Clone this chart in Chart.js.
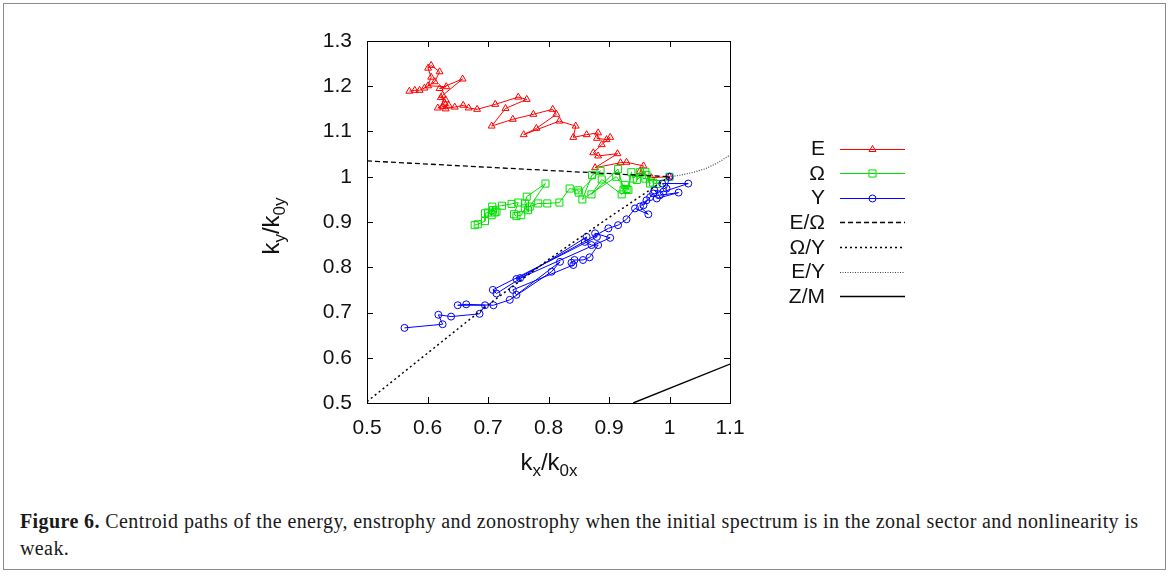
<!DOCTYPE html>
<html>
<head>
<meta charset="utf-8">
<title>Centroid paths</title>
<script src="https://cdn.jsdelivr.net/npm/chart.js@4.4.1/dist/chart.umd.min.js"></script>
<style>
  body { margin: 0; background: #fff; }
  #frame { position: absolute; left: 3px; top: 3px; width: 1161px; height: 565px; border: 1px solid #8c8c8c; }
  #plot { position: absolute; left: 0; top: 0; }
  #caption {
    position: absolute; left: 20px; top: 508px; width: 1140px; margin: 0;
    font-family: "Liberation Serif", "DejaVu Serif", serif; font-size: 20px; letter-spacing: 0.4px;
    line-height: 27px; color: #1a1a1a;
  }
</style>
</head>
<body>
<div id="frame"></div>
<canvas id="plot" width="1170" height="490"></canvas>
<p id="caption"><b>Figure 6.</b> Centroid paths of the energy, enstrophy and zonostrophy when the initial spectrum is in the zonal sector and nonlinearity is<br>weak.</p>
<script>
// axis ticks
const xTickValues = [0.5, 0.6, 0.7, 0.8, 0.9, 1.0, 1.1];
const yTickValues = [0.5, 0.6, 0.7, 0.8, 0.9, 1.0, 1.1, 1.2, 1.3];

// legend entries, same order as the datasets below
const seriesNames = ['E', 'Ω', 'Y', 'E/Ω', 'Ω/Y', 'E/Y', 'Z/M'];

// centroid path of the energy (kx/k0x, ky/k0y)
const energyPath = [
  [1.000, 1.000], [0.970, 0.998], [0.951, 1.012], [0.957, 1.024], [0.929, 1.032],
  [0.919, 1.031], [0.877, 1.020], [0.914, 1.051], [0.882, 1.046], [0.874, 1.053],
  [0.888, 1.071], [0.902, 1.087], [0.896, 1.082], [0.880, 1.085], [0.882, 1.097],
  [0.863, 1.093], [0.841, 1.087], [0.845, 1.112], [0.818, 1.123], [0.759, 1.093],
  [0.780, 1.107], [0.813, 1.138], [0.807, 1.149], [0.775, 1.138], [0.741, 1.127],
  [0.706, 1.112], [0.729, 1.151], [0.764, 1.171], [0.750, 1.176], [0.712, 1.160],
  [0.682, 1.149], [0.668, 1.152], [0.659, 1.158], [0.645, 1.154], [0.630, 1.150],
  [0.625, 1.155], [0.635, 1.158], [0.617, 1.152], [0.628, 1.163], [0.630, 1.170],
  [0.622, 1.175], [0.625, 1.180], [0.658, 1.216], [0.620, 1.195], [0.631, 1.199],
  [0.601, 1.201], [0.606, 1.220], [0.601, 1.240], [0.606, 1.246], [0.620, 1.232],
  [0.612, 1.210], [0.595, 1.196], [0.587, 1.191], [0.579, 1.191], [0.570, 1.189]
];

// centroid path of the enstrophy
const enstrophyPath = [
  [1.000, 1.000], [0.979, 0.984], [0.973, 0.987], [0.962, 1.004], [0.968, 0.985],
  [0.960, 0.996], [0.960, 1.011], [0.946, 0.993], [0.951, 1.010], [0.940, 0.996],
  [0.937, 1.010], [0.932, 0.971], [0.926, 0.982], [0.924, 0.971], [0.915, 1.017],
  [0.871, 0.961], [0.888, 0.994], [0.921, 0.961], [0.929, 0.973], [0.912, 1.000],
  [0.856, 0.950], [0.872, 1.004], [0.886, 1.013], [0.850, 0.965], [0.849, 0.970],
  [0.835, 0.974], [0.818, 0.943], [0.798, 0.941], [0.783, 0.941], [0.769, 0.934],
  [0.795, 0.985], [0.764, 0.956], [0.761, 0.941], [0.766, 0.926], [0.761, 0.930],
  [0.755, 0.915], [0.747, 0.913], [0.743, 0.917], [0.750, 0.943], [0.739, 0.940],
  [0.723, 0.936], [0.707, 0.934], [0.708, 0.926], [0.714, 0.923], [0.711, 0.921],
  [0.706, 0.915], [0.700, 0.921], [0.695, 0.919], [0.695, 0.902], [0.683, 0.895],
  [0.678, 0.893]
];

// centroid path of the zonostrophy
const zonostrophyPath = [
  [1.000, 1.000], [0.995, 0.974], [0.988, 0.985], [1.031, 0.985], [0.990, 0.967],
  [0.975, 0.970], [0.984, 0.959], [1.015, 0.965], [0.979, 0.952], [0.973, 0.963],
  [0.968, 0.955], [0.957, 0.937], [0.962, 0.948], [0.951, 0.934], [0.965, 0.917],
  [0.943, 0.930], [0.929, 0.906], [0.915, 0.893], [0.899, 0.886], [0.747, 0.774],
  [0.753, 0.776], [0.902, 0.865], [0.877, 0.875], [0.880, 0.867], [0.708, 0.750],
  [0.714, 0.742], [0.863, 0.867], [0.860, 0.856], [0.871, 0.849], [0.882, 0.849],
  [0.868, 0.822], [0.857, 0.816], [0.843, 0.816], [0.838, 0.810], [0.841, 0.805],
  [0.741, 0.750], [0.747, 0.739], [0.819, 0.812], [0.805, 0.790], [0.736, 0.728],
  [0.709, 0.716], [0.664, 0.718], [0.650, 0.716], [0.695, 0.716], [0.686, 0.697],
  [0.639, 0.691], [0.618, 0.695], [0.625, 0.674], [0.562, 0.666]
];

// sector boundaries
const eOmegaLine = [[0.5, 1.035], [1.0, 1.0]];
const omegaYLine = [[0.5, 0.503], [0.6, 0.61], [0.7, 0.717], [0.8, 0.817], [0.9, 0.91], [1.0, 1.0]];
const eYLine = [[1.0, 1.0], [1.02, 1.004], [1.04, 1.01], [1.06, 1.018], [1.08, 1.031], [1.1, 1.048]];
const zmLine = [[0.94, 0.5], [1.1, 0.586]];

const toXY = pts => pts.map(([x, y]) => ({ x, y }));
const tickText = v => String(Number(v.toFixed(1)));

const RED = '#ff0000', GREEN = '#00e000', BLUE = '#0000ff';

function pathSet(label, pts, color, style, radius, order) {
  return {
    label, data: toXY(pts), showLine: true, order,
    borderColor: color, borderWidth: 1,
    pointStyle: style, pointRadius: radius, pointBorderWidth: 1,
    pointBorderColor: color, pointBackgroundColor: 'rgba(0,0,0,0)'
  };
}
function boundarySet(label, pts, color, dash, width, order) {
  return {
    label, data: toXY(pts), showLine: true, order,
    borderColor: color, borderWidth: width, borderDash: dash,
    pointRadius: 0
  };
}

const datasets = [
  pathSet(seriesNames[0], energyPath, RED, 'triangle', 4, 7),
  pathSet(seriesNames[1], enstrophyPath, GREEN, 'rect', 5, 6),
  pathSet(seriesNames[2], zonostrophyPath, BLUE, 'circle', 3.5, 5),
  boundarySet(seriesNames[3], eOmegaLine, '#000', [5, 3], 1.3, 4),
  boundarySet(seriesNames[4], omegaYLine, '#000', [2, 3], 1.5, 3),
  boundarySet(seriesNames[5], eYLine, '#444', [1, 1.5], 1.2, 2),
  boundarySet(seriesNames[6], zmLine, '#000', [], 1.4, 1)
];

// text with subscripts, e.g. [['k',0],['y',1]]
function drawSubText(ctx, parts, cx, baseY) {
  const big = '24px "Liberation Sans", Arial, sans-serif';
  const small = '17px "Liberation Sans", Arial, sans-serif';
  let total = 0;
  parts.forEach(([t, sub]) => { ctx.font = sub ? small : big; total += ctx.measureText(t).width; });
  let x = cx - total / 2;
  ctx.textAlign = 'left';
  ctx.textBaseline = 'alphabetic';
  parts.forEach(([t, sub]) => {
    ctx.font = sub ? small : big;
    ctx.fillText(t, x, baseY + (sub ? 6 : 0));
    x += ctx.measureText(t).width;
  });
}

// gnuplot-like border, inward ticks, axis titles and key
const gnuplotDecor = {
  id: 'gnuplotDecor',
  afterDraw(chart) {
    const { ctx, chartArea: a, scales: { x, y } } = chart;
    ctx.save();
    ctx.strokeStyle = '#000';
    ctx.lineWidth = 1;
    ctx.setLineDash([]);
    ctx.beginPath();
    xTickValues.forEach(v => {
      const px = Math.round(x.getPixelForValue(v)) + 0.5;
      ctx.moveTo(px, a.bottom); ctx.lineTo(px, a.bottom - 6);
      ctx.moveTo(px, a.top); ctx.lineTo(px, a.top + 6);
    });
    yTickValues.forEach(v => {
      const py = Math.round(y.getPixelForValue(v)) + 0.5;
      ctx.moveTo(a.left, py); ctx.lineTo(a.left + 6, py);
      ctx.moveTo(a.right, py); ctx.lineTo(a.right - 6, py);
    });
    ctx.stroke();
    ctx.strokeRect(Math.round(a.left) + 0.5, Math.round(a.top) + 0.5,
      Math.round(a.right - a.left), Math.round(a.bottom - a.top));

    ctx.fillStyle = '#111';
    drawSubText(ctx, [['k', 0], ['x', 1], ['/k', 0], ['0x', 1]], 549, 470);
    ctx.save();
    ctx.translate(279, 226);
    ctx.rotate(-Math.PI / 2);
    drawSubText(ctx, [['k', 0], ['y', 1], ['/k', 0], ['0y', 1]], 0, 0);
    ctx.restore();

    // key
    const x0 = 840, x1 = 905, mx = 872.5;
    chart.data.datasets.forEach((ds, i) => {
      const ly = 148.5 + i * 24.6;
      ctx.font = '21px "Liberation Sans", Arial, sans-serif';
      ctx.textAlign = 'right';
      ctx.textBaseline = 'middle';
      ctx.fillStyle = '#111';
      ctx.fillText(ds.label, 825, ly + 1);
      ctx.strokeStyle = ds.borderColor;
      ctx.lineWidth = ds.borderWidth;
      ctx.setLineDash(ds.borderDash || []);
      ctx.beginPath();
      ctx.moveTo(x0, Math.round(ly) + 0.5);
      ctx.lineTo(x1, Math.round(ly) + 0.5);
      ctx.stroke();
      ctx.setLineDash([]);
      if (ds.pointRadius > 0) {
        ctx.strokeStyle = ds.pointBorderColor;
        ctx.fillStyle = 'rgba(0,0,0,0)';
        Chart.helpers.drawPoint(ctx, {
          pointStyle: ds.pointStyle, radius: ds.pointRadius, borderWidth: 1, rotation: 0
        }, mx, Math.round(ly) + 0.5);
      }
    });
    ctx.restore();
  }
};

const tickFont = { family: '"Liberation Sans", Arial, sans-serif', size: 21 };

new Chart(document.getElementById('plot'), {
  type: 'scatter',
  data: { datasets },
  options: {
    responsive: false,
    animation: false,
    events: [],
    layout: { padding: { left: 0, right: 440, top: 41, bottom: 0 } },
    plugins: { legend: { display: false }, tooltip: { enabled: false } },
    scales: {
      x: {
        type: 'linear', min: 0.5, max: 1.1,
        afterFit: s => { s.height = 87; },
        afterBuildTicks: s => { s.ticks = xTickValues.map(v => ({ value: v })); },
        grid: { display: false, drawTicks: false },
        border: { display: false },
        ticks: { font: tickFont, color: '#111', padding: 13, maxRotation: 0, autoSkip: false, callback: tickText }
      },
      y: {
        type: 'linear', min: 0.5, max: 1.3,
        afterFit: s => { s.width = 367; },
        afterBuildTicks: s => { s.ticks = yTickValues.map(v => ({ value: v })); },
        grid: { display: false, drawTicks: false },
        border: { display: false },
        ticks: { font: tickFont, color: '#111', padding: 15, autoSkip: false, callback: tickText }
      }
    }
  },
  plugins: [gnuplotDecor]
});
</script>
</body>
</html>
